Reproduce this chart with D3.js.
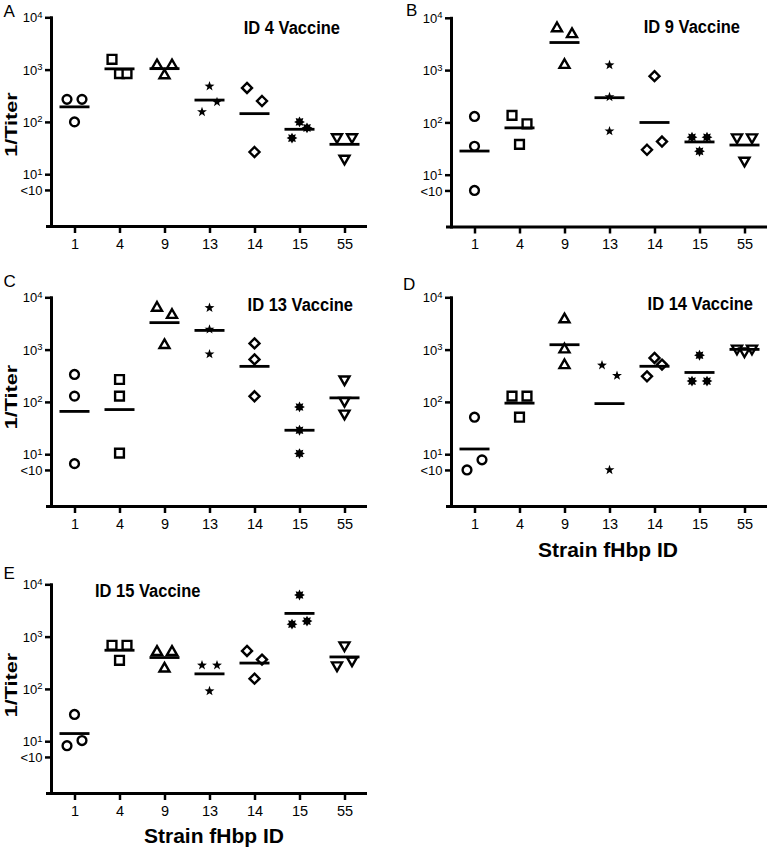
<!DOCTYPE html>
<html><head><meta charset="utf-8">
<script src="https://cdn.jsdelivr.net/npm/d3@7"></script>
<style>
body{margin:0;background:#fff}
svg{display:block}
text, tspan{font-family:"Liberation Sans",Arial,Helvetica,sans-serif;fill:#000}
</style>
</head><body>
<svg id="chart" width="767" height="847"></svg>
<script>
// ---------------- data ----------------
const strains = ["1", "4", "9", "13", "14", "15", "55"];
const markerShapes = ["circle", "square", "triangleUp", "star", "diamond", "asterisk", "triangleDown"];
const panelLetters = ["A", "B", "C", "D", "E"];
const panelTitles = ["ID 4 Vaccine", "ID 9 Vaccine", "ID 13 Vaccine", "ID 14 Vaccine", "ID 15 Vaccine"];
const yTickValues = [5, 10, 100, 1000, 10000];
const yTickLabels = ["<10", "10^1", "10^2", "10^3", "10^4"];
const xAxisTitle = "Strain fHbp ID";
const yAxisTitle = "1/Titer";

// 1/titer of three animals per strain (values <10 plotted at 5)
const vaccineID4 = [
  [270, 270, 100],
  [1575, 838, 838],
  [1208, 778, 1208],
  [480, 155, 240],
  [446, 251, 26.6],
  [49, 100, 77],
  [51, 51, 19.9]
];
const vaccineID9 = [
  [130, 35, 5],
  [136, 94, 38],
  [6300, 4850, 1250],
  [1250, 307, 68],
  [767, 30, 43],
  [52, 28, 52],
  [52, 52, 18.6]
];
const vaccineID13 = [
  [335, 129, 6.6],
  [268, 129, 10.5],
  [6300, 4580, 1220],
  [6300, 2440, 820],
  [1315, 649, 128],
  [80, 28.7, 10.3],
  [270, 105, 60]
];
const vaccineID14 = [
  [51, 5, 7.8],
  [129, 129, 51],
  [3780, 1004, 502],
  [502, 318, 5],
  [308, 693, 517],
  [780, 250, 250],
  [1050, 931, 1050]
];
const vaccineID15 = [
  [32.5, 8.2, 10.3],
  [684, 352, 684],
  [508, 244, 508],
  [283, 283, 91],
  [532, 363, 157],
  [6240, 1730, 1977],
  [283, 684, 352]
];
const panelData = [vaccineID4, vaccineID9, vaccineID13, vaccineID14, vaccineID15];

// ---------------- layout ----------------
const layouts = [
  {left: 51.5, xr: [52, 367], yTop: 17.3, yBot: 226.5, titleX: 340, titleY: 33.5, titleAnchor: "end", letterX: 3.5, letterY: 17, yTitleY: 124.5, xTitle: null},
  {left: 451.5, xr: [452, 767], yTop: 17.8, yBot: 227, titleX: 740, titleY: 33, titleAnchor: "end", letterX: 406, letterY: 15.5, yTitleY: null, xTitle: null},
  {left: 51.5, xr: [52, 367], yTop: 297.3, yBot: 506.5, titleX: 353, titleY: 311, titleAnchor: "end", letterX: 3.5, letterY: 287, yTitleY: 397, xTitle: null},
  {left: 451.5, xr: [452, 767], yTop: 297.3, yBot: 506.5, titleX: 753, titleY: 310, titleAnchor: "end", letterX: 403, letterY: 290, yTitleY: null, xTitle: [608, 557]},
  {left: 51.5, xr: [52, 367], yTop: 584.3, yBot: 793.5, titleX: 95, titleY: 597, titleAnchor: "start", letterX: 3.5, letterY: 578.5, yTitleY: 685, xTitle: [214, 843]}
];

const svg = d3.select("#chart");

function starPath(n, rOut, rIn) {
  const pts = [];
  for (let k = 0; k < 2 * n; k++) {
    const a = -Math.PI / 2 + k * Math.PI / n;
    const r = k % 2 === 0 ? rOut : rIn;
    pts.push([r * Math.cos(a), r * Math.sin(a)]);
  }
  return "M" + pts.map(p => p[0].toFixed(2) + "," + p[1].toFixed(2)).join("L") + "Z";
}
function markerPath(shape) {
  const s = 10, h = s * Math.sqrt(3) / 2;
  switch (shape) {
    case "circle": return d3.symbol(d3.symbolCircle, Math.PI * 4.4 * 4.4)();
    case "square": return "M-4.4,-4.4h8.8v8.8h-8.8Z";
    case "triangleUp": return `M0,${-2*h/3}L${s/2},${h/3}L${-s/2},${h/3}Z`;
    case "triangleDown": return `M0,${2*h/3}L${s/2},${-h/3}L${-s/2},${-h/3}Z`;
    case "diamond": return "M0,-5L5,0L0,5L-5,0Z";
    case "star": return starPath(5, 5.2, 2.1);
    case "asterisk": return starPath(8, 5.4, 3.3);
  }
}
const filledShapes = new Set(["star", "asterisk"]);

// simple GraphPad-like dodge of overlapping points
function dodge(values, shape, y) {
  const thr = shape === "triangleDown" ? 11 : 15;
  const pts = values.map((v, i) => ({v, i, py: y(v), dx: 0}));
  const sorted = pts.slice().sort((a, b) => a.py - b.py || a.i - b.i);
  const clusters = [];
  let cur = [sorted[0]];
  for (let k = 1; k < sorted.length; k++) {
    if (sorted[k].py - sorted[k - 1].py < thr) cur.push(sorted[k]);
    else { clusters.push(cur); cur = [sorted[k]]; }
  }
  clusters.push(cur);
  clusters.forEach(c => {
    c.sort((a, b) => a.i - b.i);
    const n = c.length;
    c.forEach((p, k) => { p.dx = n === 1 ? 0 : -7.5 + 15 * k / (n - 1); });
  });
  return pts;
}

panelData.forEach((data, pi) => {
  const L = layouts[pi];
  const g = svg.append("g");
  const x = d3.scalePoint().domain(strains).range(L.xr).padding(0.5);
  const y = d3.scaleLog().domain([1, 1e4]).range([L.yBot, L.yTop]);

  // y axis ticks + labels
  const ya = g.append("g").attr("transform", `translate(${L.left},0)`)
    .call(d3.axisLeft(y).tickValues(yTickValues).tickSize(6.5).tickPadding(3)
      .tickFormat(d => yTickLabels[yTickValues.indexOf(d)]));
  ya.select(".domain").remove();
  ya.selectAll(".tick line").attr("stroke", "#000").attr("stroke-width", 2.5);
  ya.selectAll(".tick text").each(function(d) {
    const t = d3.select(this);
    const lab = yTickLabels[yTickValues.indexOf(d)];
    t.text(null).attr("font-size", 13).attr("dy", "0.36em").attr("x", -9)
      .attr("fill", "#000").attr("font-family", null);
    if (lab.includes("^")) {
      const [b, e] = lab.split("^");
      t.append("tspan").attr("fill", "#000").text(b);
      t.append("tspan").attr("fill", "#000").attr("font-size", 9.5).attr("dy", "-0.5em").text(e);
    } else {
      t.append("tspan").attr("fill", "#000").text(lab);
    }
  });

  // x axis ticks + labels
  const xa = g.append("g").attr("transform", `translate(0,${L.yBot})`)
    .call(d3.axisBottom(x).tickSize(6.5).tickPadding(5.5));
  xa.select(".domain").remove();
  xa.selectAll(".tick line").attr("stroke", "#000").attr("stroke-width", 2.5);
  xa.selectAll(".tick text").attr("font-size", 14.5).attr("fill", "#000").attr("font-family", null);

  // axis lines
  g.append("line").attr("x1", L.left).attr("x2", L.left)
    .attr("y1", L.yTop - 1).attr("y2", L.yBot + 1.5)
    .attr("stroke", "#000").attr("stroke-width", 3);
  g.append("line").attr("x1", L.left - 5.5).attr("x2", L.xr[1])
    .attr("y1", L.yBot).attr("y2", L.yBot)
    .attr("stroke", "#000").attr("stroke-width", 3);

  // points
  data.forEach((vals, si) => {
    const shape = markerShapes[si];
    const cx = x(strains[si]);
    const pts = dodge(vals, shape, y);
    const filled = filledShapes.has(shape);
    g.append("g").selectAll("path").data(pts).join("path")
      .attr("d", markerPath(shape))
      .attr("transform", p => `translate(${cx + p.dx},${p.py})`)
      .attr("fill", filled ? "#000" : "#fff")
      .attr("stroke", filled ? "none" : "#000")
      .attr("stroke-width", 2.4)
      .attr("stroke-linejoin", "miter");
    // geometric mean line
    const gm = Math.pow(10, d3.mean(vals, v => Math.log10(v)));
    g.append("line").attr("x1", cx - 15).attr("x2", cx + 15)
      .attr("y1", y(gm)).attr("y2", y(gm))
      .attr("stroke", "#000").attr("stroke-width", 2.8);
  });

  // title
  g.append("text").attr("transform", `translate(${L.titleX},${L.titleY}) scale(1,1.1)`)
    .attr("text-anchor", L.titleAnchor).attr("font-size", 16.5).attr("font-weight", "bold")
    .text(panelTitles[pi]);
  // panel letter
  g.append("text").attr("x", L.letterX).attr("y", L.letterY)
    .attr("font-size", 17).text(panelLetters[pi]);
  // y axis title
  if (L.yTitleY !== null) {
    g.append("text").attr("transform", `translate(16.5,${L.yTitleY}) rotate(-90) scale(1.27,1)`)
      .attr("text-anchor", "middle").attr("font-size", 17).attr("font-weight", "bold")
      .text(yAxisTitle);
  }
  if (L.xTitle) {
    g.append("text").attr("x", L.xTitle[0]).attr("y", L.xTitle[1])
      .attr("text-anchor", "middle").attr("font-size", 21).attr("font-weight", "bold")
      .text(xAxisTitle);
  }
});
</script>
</body></html>
